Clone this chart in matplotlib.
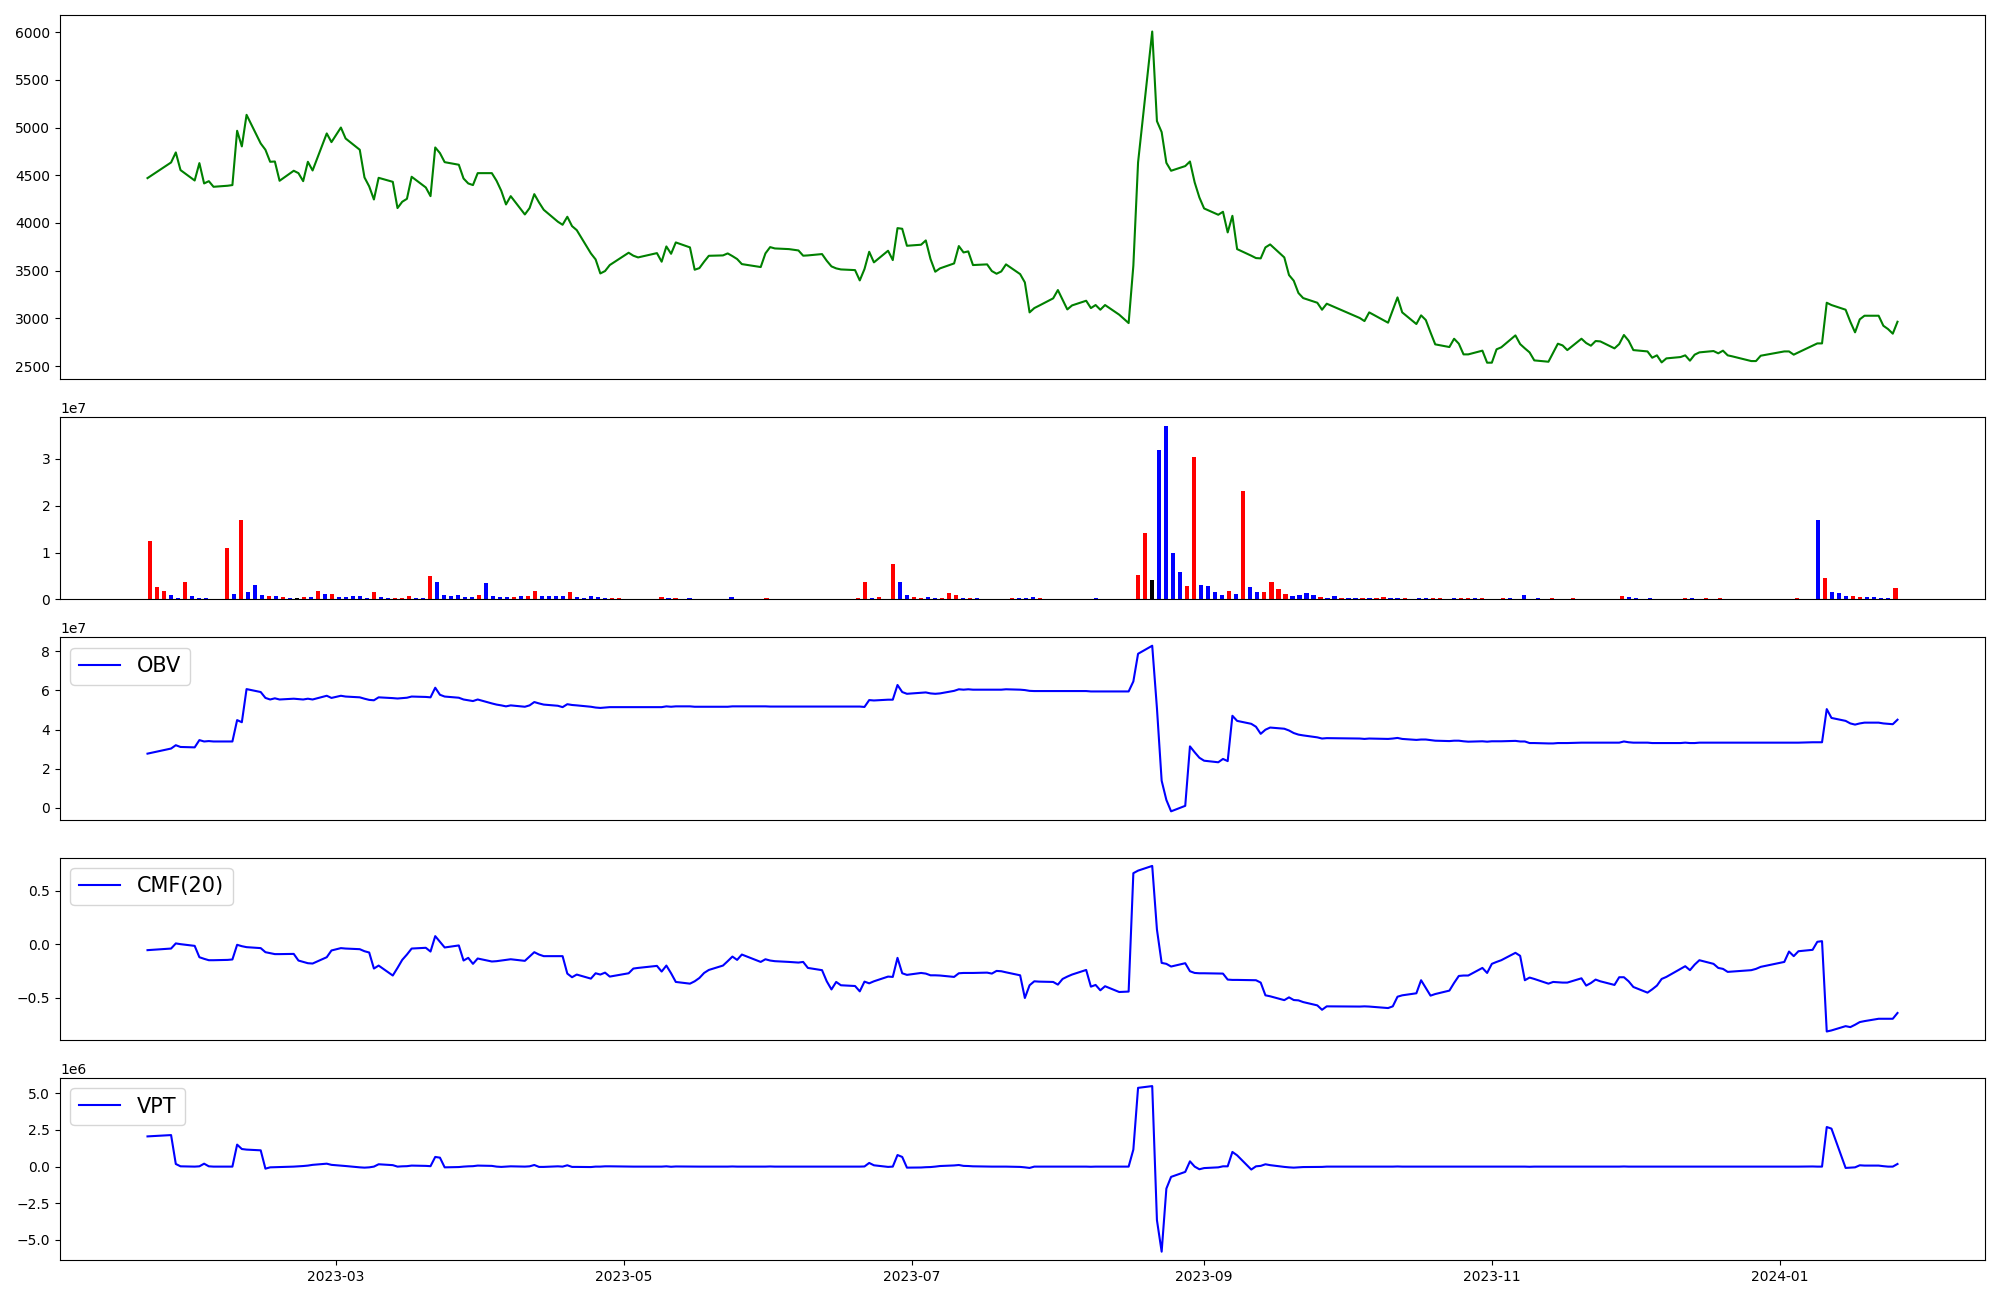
import numpy as np
import pandas as pd
import matplotlib
matplotlib.use("Agg")
import matplotlib.pyplot as plt

# ---------------- data ----------------
krx_holidays = ["2023-01-23", "2023-01-24", "2023-03-01", "2023-05-01", "2023-05-05",
                "2023-05-29", "2023-06-06", "2023-08-15", "2023-09-28", "2023-09-29",
                "2023-10-02", "2023-10-03", "2023-10-09", "2023-12-25", "2023-12-29",
                "2024-01-01"]
dates = pd.bdate_range("2023-01-20", "2024-01-26", freq="C", holidays=krx_holidays)

close = [
    4470, 4634, 4739, 4554, 4445, 4627,
    4414, 4438, 4379, 4390, 4397, 4966, 4802, 5133, 4833, 4767, 4641, 4644, 4442, 4547,
    4522, 4438, 4641, 4550, 4938, 4847,
    5000, 4885, 4767, 4477, 4383, 4246, 4473, 4431, 4156, 4222, 4253, 4484, 4372, 4281,
    4791, 4732, 4637, 4610, 4466, 4414, 4397, 4522,
    4522, 4442, 4337, 4194, 4281, 4089, 4156, 4302, 4215, 4138, 4013, 3981, 4065, 3967,
    3925, 3681, 3618, 3471, 3496, 3559,
    3688, 3657, 3639, 3684, 3594, 3754, 3677, 3796, 3744, 3510, 3527, 3594, 3656, 3660,
    3681, 3653, 3622, 3569, 3538, 3681,
    3747, 3733, 3726, 3712, 3657, 3660, 3674, 3604, 3545, 3524, 3513, 3506, 3398, 3517,
    3698, 3587, 3709, 3611, 3946, 3939, 3761,
    3772, 3817, 3622, 3489, 3524, 3576, 3758, 3691, 3702, 3559, 3566, 3496, 3468, 3492,
    3566, 3464, 3377, 3063, 3108, 3133, 3210,
    3297, 3196, 3094, 3136, 3185, 3108, 3140, 3091, 3140, 3039, 2951, 3552, 4634, 6006,
    5067, 4952, 4630, 4547, 4596, 4644, 4425, 4267,
    4152, 4086, 4117, 3901, 4075, 3726, 3657, 3632, 3629, 3744, 3775, 3639, 3454, 3395,
    3266, 3213, 3164, 3091, 3154,
    3004, 2972, 3063, 2955, 3087, 3220, 3063, 2941, 3032, 2983, 2853, 2728, 2700, 2787,
    2735, 2623, 2623, 2662, 2536,
    2536, 2676, 2697, 2822, 2731, 2686, 2644, 2560, 2546, 2641, 2735, 2717, 2668, 2787,
    2742, 2714, 2763, 2759, 2686, 2731, 2826, 2766,
    2668, 2654, 2588, 2613, 2539, 2581, 2595, 2613, 2557, 2620, 2644, 2658, 2634, 2662,
    2613, 2602, 2553, 2553, 2609,
    2654, 2654, 2620, 2644, 2714, 2738, 2738, 3164, 3140, 3091, 2965, 2854, 2990, 3028,
    3028, 2923, 2888, 2840, 2965,
]

volume_1e7 = [
    1.24, 0.256, 0.171, 0.085, 0.02, 0.363, 0.064, 0.02, 0.02, 0,
    0, 1.09, 0.107, 1.69, 0.15, 0.30, 0.085, 0.064, 0.064, 0.043,
    0.02, 0.02, 0.043, 0.043, 0.19, 0.107, 0.107, 0.043, 0.043, 0.064,
    0.064, 0.02, 0.15, 0.043, 0.02, 0.02, 0.02, 0.064, 0.02, 0.02,
    0.49, 0.363, 0.085, 0.064, 0.085, 0.043, 0.043, 0.085, 0.34, 0.064,
    0.043, 0.043, 0.043, 0.064, 0.064, 0.171, 0.064, 0.064, 0.064, 0.064,
    0.15, 0.043, 0.02, 0.064, 0.043, 0.02, 0.02, 0.02, 0, 0,
    0, 0, 0, 0.043, 0.02, 0.02, 0, 0.02, 0, 0,
    0, 0, 0, 0.043, 0, 0, 0, 0, 0.02, 0,
    0, 0, 0, 0, 0, 0, 0, 0, 0, 0,
    0, 0.02, 0.363, 0.02, 0.043, 0, 0.75, 0.363, 0.085, 0.043,
    0.02, 0.043, 0.02, 0.02, 0.128, 0.085, 0.02, 0.02, 0.02, 0,
    0, 0, 0, 0.02, 0.02, 0.02, 0.043, 0.02, 0, 0,
    0, 0, 0, 0, 0, 0.02, 0, 0, 0, 0,
    0, 0.513, 1.41, 0.406, 3.18, 3.70, 0.98, 0.577, 0.278, 3.03,
    0.30, 0.278, 0.15, 0.085, 0.171, 0.107, 2.31, 0.256, 0.15, 0.15,
    0.363, 0.214, 0.107, 0.064, 0.085, 0.128, 0.085, 0.043, 0.02, 0.064,
    0.02, 0.02, 0.02, 0.02, 0.02, 0.02, 0.043, 0.02, 0.02, 0.02,
    0, 0.02, 0.02, 0.02, 0.02, 0, 0.02, 0.02, 0.02, 0.02,
    0.02, 0, 0, 0.02, 0.02, 0, 0.085, 0, 0.02, 0,
    0.02, 0, 0, 0.02, 0, 0, 0, 0, 0, 0,
    0.064, 0.043, 0.02, 0, 0.02, 0, 0, 0, 0, 0.02,
    0.02, 0, 0.02, 0, 0.02, 0, 0, 0, 0, 0,
    0, 0, 0, 0, 0, 0.02, 0, 0, 1.69, 0.449,
    0.15, 0.128, 0.064, 0.064, 0.043, 0.043, 0.043, 0.02, 0.02, 0.235,
]

bar_dir = (
    "rrrbbrbbbb" "brbrbbbrbr" "bkrbrbrbbb" "bbrbbrrrbb" "rbbbbbbrbb"
    "bbrbrrbbbb" "rbbbbbrrbb" "bbbrbrbbbb" "bbbbbbbbrb" "bbbbbbbbbb"
    "brrbrbrbbr" "rbbrrrbrbb" "bbbrbbbrbb" "bbbbbbbbbb" "brrkbbbbrr"
    "bbbbrbrbbr" "rrrbbbbrbb" "rbbrbrrbbr" "bbbrrbbrrb" "rbbrbbbbbb"
    "rbbrbbbbbb" "rbbbbbbbbr" "bbrbrbbbbb" "bbbbbrbbbr" "bbbrrbbbbr"
)

obv_1e7 = [
    2.77, 3.03, 3.20, 3.11, 3.09, 3.46, 3.39, 3.41, 3.39, 3.39,
    3.39, 4.48, 4.37, 6.06, 5.91, 5.61, 5.53, 5.59, 5.53, 5.57,
    5.55, 5.53, 5.57, 5.53, 5.72, 5.61, 5.72, 5.68, 5.64, 5.57,
    5.51, 5.49, 5.64, 5.60, 5.58, 5.60, 5.62, 5.68, 5.66, 5.64,
    6.13, 5.77, 5.68, 5.62, 5.53, 5.49, 5.45, 5.53, 5.33, 5.27,
    5.23, 5.18, 5.23, 5.16, 5.23, 5.40, 5.33, 5.27, 5.21, 5.14,
    5.29, 5.25, 5.23, 5.16, 5.12, 5.10, 5.12, 5.14, 5.14, 5.14,
    5.14, 5.14, 5.14, 5.18, 5.16, 5.18, 5.18, 5.16, 5.16, 5.16,
    5.16, 5.16, 5.16, 5.18, 5.18, 5.18, 5.18, 5.18, 5.17, 5.17,
    5.17, 5.17, 5.17, 5.17, 5.17, 5.17, 5.17, 5.17, 5.17, 5.17,
    5.17, 5.15, 5.50, 5.48, 5.52, 5.52, 6.27, 5.91, 5.82, 5.87,
    5.89, 5.84, 5.82, 5.84, 5.97, 6.05, 6.03, 6.05, 6.03, 6.03,
    6.03, 6.03, 6.03, 6.05, 6.03, 6.01, 5.97, 5.96, 5.96, 5.96,
    5.96, 5.96, 5.96, 5.96, 5.96, 5.94, 5.94, 5.94, 5.94, 5.94,
    5.94, 6.45, 7.86, 8.27, 5.09, 1.39, 0.41, -0.17, 0.11, 3.14,
    2.84, 2.56, 2.41, 2.33, 2.50, 2.39, 4.70, 4.44, 4.29, 4.14,
    3.78, 3.99, 4.10, 4.04, 3.95, 3.82, 3.74, 3.70, 3.60, 3.54,
    3.56, 3.54, 3.52, 3.54, 3.52, 3.54, 3.57, 3.52, 3.47, 3.49,
    3.49, 3.46, 3.43, 3.41, 3.43, 3.43, 3.40, 3.38, 3.40, 3.38,
    3.40, 3.40, 3.40, 3.42, 3.39, 3.39, 3.31, 3.31, 3.29, 3.29,
    3.31, 3.31, 3.31, 3.33, 3.33, 3.33, 3.33, 3.33, 3.33, 3.33,
    3.39, 3.35, 3.33, 3.33, 3.31, 3.31, 3.31, 3.31, 3.31, 3.33,
    3.31, 3.31, 3.33, 3.33, 3.33, 3.33, 3.33, 3.33, 3.33, 3.33,
    3.33, 3.33, 3.33, 3.33, 3.33, 3.35, 3.35, 3.35, 5.04, 4.59,
    4.44, 4.31, 4.25, 4.31, 4.35, 4.35, 4.31, 4.29, 4.27, 4.50,
]

cmf20 = [
    -0.053, -0.038, 0.010, 0.003, -0.013, -0.119, -0.134, -0.147, -0.147, -0.144,
    -0.140, -0.003, -0.016, -0.025, -0.034, -0.072, -0.081, -0.090, -0.090, -0.088,
    -0.150, -0.163, -0.175, -0.178, -0.119, -0.056, -0.034, -0.038, -0.044, -0.063,
    -0.075, -0.225, -0.197, -0.290, -0.219, -0.144, -0.094, -0.038, -0.031, -0.066,
    0.078, 0.025, -0.028, -0.009, -0.150, -0.125, -0.181, -0.131, -0.159, -0.156,
    -0.150, -0.144, -0.138, -0.153, -0.113, -0.072, -0.094, -0.109, -0.109, -0.109,
    -0.272, -0.306, -0.281, -0.319, -0.269, -0.281, -0.263, -0.300, -0.269, -0.225,
    -0.219, -0.200, -0.253, -0.197, -0.269, -0.350, -0.366, -0.344, -0.313, -0.266,
    -0.238, -0.197, -0.156, -0.113, -0.144, -0.094, -0.163, -0.138, -0.150, -0.156,
    -0.163, -0.169, -0.163, -0.219, -0.240, -0.344, -0.420, -0.350, -0.381, -0.388,
    -0.438, -0.347, -0.363, -0.344, -0.300, -0.303, -0.125, -0.269, -0.284, -0.266,
    -0.272, -0.288, -0.288, -0.290, -0.303, -0.269, -0.266, -0.266, -0.266, -0.263,
    -0.272, -0.247, -0.250, -0.260, -0.288, -0.500, -0.381, -0.344, -0.347, -0.350,
    -0.375, -0.322, -0.300, -0.281, -0.238, -0.394, -0.378, -0.428, -0.390, -0.444,
    -0.440, 0.666, 0.690, 0.734, 0.140, -0.172, -0.181, -0.206, -0.175, -0.250,
    -0.266, -0.269, -0.269, -0.272, -0.272, -0.328, -0.331, -0.331, -0.334, -0.334,
    -0.356, -0.475, -0.484, -0.520, -0.494, -0.519, -0.522, -0.538, -0.569, -0.610,
    -0.578, -0.580, -0.578, -0.580, -0.594, -0.578, -0.488, -0.475, -0.456, -0.334,
    -0.406, -0.478, -0.463, -0.431, -0.359, -0.294, -0.290, -0.290, -0.219, -0.266,
    -0.181, -0.163, -0.147, -0.078, -0.106, -0.334, -0.309, -0.322, -0.366, -0.350,
    -0.353, -0.356, -0.356, -0.316, -0.384, -0.360, -0.328, -0.344, -0.378, -0.306,
    -0.306, -0.344, -0.397, -0.450, -0.419, -0.384, -0.322, -0.303, -0.228, -0.203,
    -0.240, -0.188, -0.147, -0.181, -0.219, -0.228, -0.256, -0.253, -0.240, -0.228,
    -0.209, -0.163, -0.066, -0.109, -0.063, -0.050, 0.025, 0.031, -0.813, -0.803,
    -0.763, -0.772, -0.750, -0.725, -0.716, -0.694, -0.694, -0.694, -0.694, -0.640,
]

vpt_1e6 = [
    2.06, 2.15, 0.18, 0.02, 0.00, 0.02, 0.20, 0.02, 0.00, 0.00,
    0.00, 1.50, 1.20, 1.16, 1.11, -0.14, -0.05, -0.04, -0.03, 0.00,
    0.02, 0.04, 0.07, 0.12, 0.20, 0.12, 0.07, 0.04, -0.05, -0.07,
    -0.05, 0.00, 0.16, 0.10, 0.00, 0.02, 0.03, 0.07, 0.05, 0.03,
    0.66, 0.61, -0.05, -0.03, 0.00, 0.02, 0.03, 0.07, 0.05, 0.00,
    -0.02, 0.00, 0.02, 0.00, 0.02, 0.11, -0.02, -0.02, 0.02, 0.00,
    0.09, -0.02, -0.02, -0.03, 0.00, 0.00, 0.02, 0.02, 0.00, 0.00,
    0.00, 0.00, 0.00, 0.02, -0.01, 0.01, 0.00, -0.01, 0.00, 0.00,
    0.00, 0.00, 0.00, 0.01, 0.00, 0.00, 0.00, 0.00, 0.01, 0.00,
    0.00, 0.00, 0.00, 0.00, 0.00, 0.00, 0.00, 0.00, 0.00, 0.00,
    0.00, 0.01, 0.25, 0.09, -0.02, 0.00, 0.79, 0.66, -0.07, -0.06,
    -0.04, -0.03, 0.00, 0.04, 0.08, 0.11, 0.05, 0.04, 0.02, 0.00,
    0.00, 0.00, 0.00, 0.00, -0.02, -0.05, -0.09, 0.00, 0.00, 0.00,
    0.00, 0.00, 0.00, 0.00, 0.00, -0.01, 0.00, 0.00, 0.00, 0.00,
    0.00, 1.16, 5.37, 5.49, -3.65, -5.80, -1.50, -0.70, -0.36, 0.36,
    0.00, -0.18, -0.10, -0.05, 0.02, 0.02, 1.00, 0.77, -0.20, 0.02,
    0.05, 0.16, 0.10, -0.02, -0.05, -0.07, -0.05, -0.03, -0.02, -0.02,
    0.00, 0.00, 0.00, 0.00, 0.00, 0.00, 0.01, 0.00, 0.00, 0.00,
    0.00, 0.00, 0.00, 0.00, 0.00, 0.00, 0.00, 0.00, 0.00, 0.00,
    0.00, 0.00, 0.00, 0.00, 0.00, 0.00, -0.01, 0.00, 0.00, 0.00,
    0.00, 0.00, 0.00, 0.00, 0.00, 0.00, 0.00, 0.00, 0.00, 0.00,
    0.01, 0.00, 0.00, 0.00, 0.00, 0.00, 0.00, 0.00, 0.00, 0.00,
    0.00, 0.00, 0.00, 0.00, 0.00, 0.00, 0.00, 0.00, 0.00, 0.00,
    0.00, 0.00, 0.00, 0.00, 0.00, 0.01, 0.00, 0.00, 2.70, 2.59,
    -0.09, -0.07, -0.05, 0.09, 0.07, 0.07, 0.03, 0.00, 0.00, 0.18,
]

lens = {k: len(v) for k, v in dict(dates=dates, close=close, volume=volume_1e7, dirs=bar_dir,
                                   obv=obv_1e7, cmf=cmf20, vpt=vpt_1e6).items()}
if len(set(lens.values())) != 1:
    raise ValueError(f"length mismatch: {lens}")

dir_colors = {"r": "red", "b": "blue", "k": "black"}
bar_colors = [dir_colors[c] for c in bar_dir]
volume = np.array(volume_1e7) * 1e7
obv = np.array(obv_1e7) * 1e7
vpt = np.array(vpt_1e6) * 1e6

# ---------------- figure ----------------
fig = plt.figure(figsize=(20, 13), dpi=100)
gs = fig.add_gridspec(5, 1, height_ratios=[2, 1, 1, 1, 1], left=0.03, right=0.9925,
                      top=0.9885, bottom=0.0308, hspace=0.174)
ax_p = fig.add_subplot(gs[0])
ax_v = fig.add_subplot(gs[1])
ax_o = fig.add_subplot(gs[2], sharex=ax_p)
ax_c = fig.add_subplot(gs[3], sharex=ax_p)
ax_t = fig.add_subplot(gs[4], sharex=ax_p)

ax_p.plot(dates, close, color="green")

ax_v.bar(np.arange(len(volume)), volume, width=0.6, color=bar_colors)

ax_o.plot(dates, obv, color="blue", label="OBV")
ax_o.legend(loc="upper left", fontsize=15)

ax_c.plot(dates, cmf20, color="blue", label="CMF(20)")
ax_c.legend(loc="upper left", fontsize=15)

ax_t.plot(dates, vpt, color="blue", label="VPT")
ax_t.legend(loc="upper left", fontsize=15)

for ax in (ax_p, ax_v, ax_o, ax_c):
    ax.tick_params(axis="x", which="both", bottom=False, labelbottom=False)

fig.savefig("out.png", dpi=100)
